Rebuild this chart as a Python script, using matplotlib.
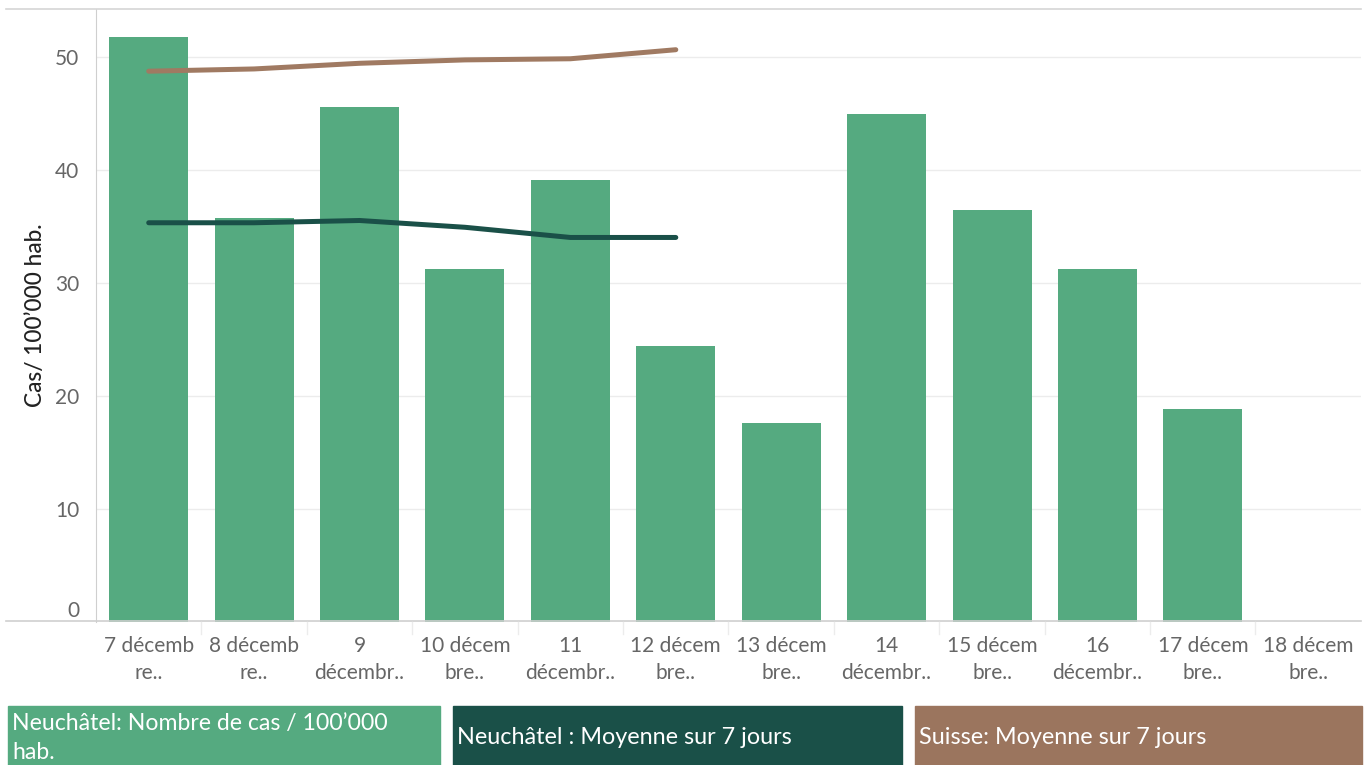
import matplotlib.pyplot as plt
import matplotlib.transforms as mtransforms
from matplotlib.patches import Rectangle

plt.rcParams['font.family'] = ['Lato', 'DejaVu Sans']

days = ["7 décemb\nre..", "8 décemb\nre..", "9\ndécembr..", "10 décem\nbre..",
        "11\ndécembr..", "12 décem\nbre..", "13 décem\nbre..", "14\ndécembr..",
        "15 décem\nbre..", "16\ndécembr..", "17 décem\nbre..", "18 décem\nbre.."]
cases = [51.7, 35.7, 45.5, 31.2, 39.1, 24.4, 17.6, 44.9, 36.4, 31.2, 18.8, 0]
ne_avg = [35.3, 35.3, 35.5, 34.9, 34.0, 34.0]
ch_avg = [48.7, 48.9, 49.4, 49.7, 49.8, 50.6]
legend_labels = ["Neuchâtel: Nombre de cas / 100’000\nhab.",
                 "Neuchâtel : Moyenne sur 7 jours",
                 "Suisse: Moyenne sur 7 jours"]

green = "#55aa80"
dark = "#1a5048"
brown = "#9b755e"

fig = plt.figure(figsize=(13.67, 7.65), dpi=100)
ax = fig.add_axes([96 / 1367, 1 - 622 / 765, (1361 - 96) / 1367, (622 - 9) / 765])

x = list(range(len(days)))
ax.bar(x, cases, width=0.75, color=green, zorder=2)
ax.plot(x[:len(ne_avg)], ne_avg, color=dark, lw=3.6, solid_capstyle='round', zorder=3)
ax.plot(x[:len(ch_avg)], ch_avg, color="#a07a62", lw=3.6, solid_capstyle='round', zorder=3)

ax.set_xlim(-0.5, 11.5)
ax.set_ylim(0, 54.2)
ax.set_yticks([0, 10, 20, 30, 40, 50])
ax.set_yticklabels(["0", "10", "20", "30", "40", "50"])
ax.set_xticks(x)
ax.set_xticklabels(days, color="#666666", fontsize=15, linespacing=1.45)
ax.tick_params(axis='y', colors="#666666", labelsize=15, length=0, pad=12)
ax.tick_params(axis='x', length=0, pad=10)
ax.grid(axis='y', color="#ececec", lw=1, zorder=0)
for lab in ax.get_yticklabels():
    lab.set_color("#666666")
zero = ax.get_yticklabels()[0]
zero.set_transform(zero.get_transform() + mtransforms.ScaledTranslation(0, 13 / 100, fig.dpi_scale_trans))

for s in ["top", "right"]:
    ax.spines[s].set_visible(False)
ax.spines["left"].set_color("#cfcfcf")
ax.spines["bottom"].set_visible(False)

# frame lines spanning past the axes like the reference
fig.add_artist(plt.Line2D([6 / 1367, 1361 / 1367], [1 - 621 / 765] * 2, color="#cfcfcf", lw=1.2))
fig.add_artist(plt.Line2D([6 / 1367, 1361 / 1367], [1 - 9 / 765] * 2, color="#d6d6d6", lw=1.2))
for i in range(1, 12):
    xp = (96 + 105.4 * i) / 1367
    fig.add_artist(plt.Line2D([xp, xp], [1 - 622 / 765, 1 - 634 / 765], color="#ececec", lw=1))

ax.set_ylabel("Cas/ 100’000 hab.", fontsize=16.3, color="#222222", fontweight='medium')
ax.yaxis.set_label_coords(-50 / 1265, 0.5)

boxes = [(8, 440, green), (453, 902, dark), (915, 1362, brown)]
for (x0, x1, c), lab in zip(boxes, legend_labels):
    fig.add_artist(Rectangle((x0 / 1367, 0), (x1 - x0) / 1367, 59 / 765,
                             transform=fig.transFigure, color=c))
    if "\n" in lab:
        fig.text((x0 + 4) / 1367, 1 - 738 / 765, lab, color="white", fontsize=16.6,
                 va='center', ha='left', linespacing=1.45)
    else:
        fig.text((x0 + 4) / 1367, 1 - 738 / 765, lab, color="white", fontsize=16.8,
                 va='center', ha='left')

fig.savefig("out.png", dpi=100)
